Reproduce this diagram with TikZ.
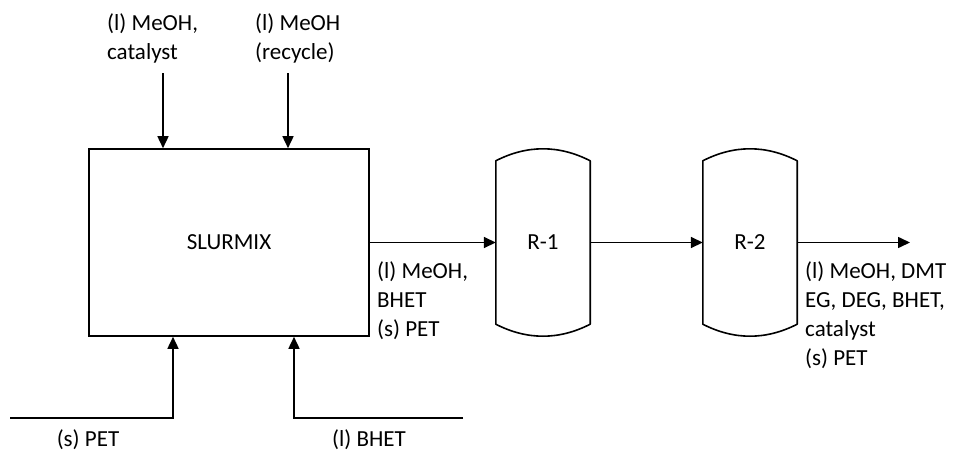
\documentclass[tikz,border=0pt]{standalone}
\usepackage{fontspec}
\setmainfont{Carlito}
\usetikzlibrary{arrows.meta,calc}
\begin{document}
\begin{tikzpicture}[x=1pt,y=-1pt,
  every node/.style={font=\fontsize{23}{29}\selectfont},
  flow/.style={line width=1.6pt, -{Triangle[width=11pt,length=12pt]}},
  unit/.style={draw, line width=1.6pt, minimum width=280pt, minimum height=187pt, inner sep=0pt},
  vessel/.style={minimum width=94pt, minimum height=187pt, inner sep=0pt},
  lbl/.style={anchor=base west, align=left, inner sep=0pt},
  clbl/.style={anchor=base, align=center, inner sep=0pt}]
\useasboundingbox (0,0) rectangle (975,455);
% units
\node[unit] (slur) at (229,242.5) {SLURMIX};
\node[vessel] (r1) at (543,242.5) {R-1};
\node[vessel] (r2) at (750,242.5) {R-2};
\foreach \r in {r1,r2}{
  \draw[line width=1.6pt, line join=round]
    ($(\r.north west)+(0,12)$)
      .. controls ($(\r.north west)+(31.3,-4)$) and ($(\r.north east)+(-31.3,-4)$) ..
    ($(\r.north east)+(0,12)$)
    -- ($(\r.south east)+(0,-12)$)
      .. controls ($(\r.south east)+(-31.3,4)$) and ($(\r.south west)+(31.3,4)$) ..
    ($(\r.south west)+(0,-12)$) -- cycle;
}
% feed points
\coordinate (fa) at (163,73);
\coordinate (fb) at (288,73);
\coordinate (pa) at (10,418);
\coordinate (pb) at (173,418);
\coordinate (ba) at (463,418);
\coordinate (bb) at (294,418);
\coordinate (out) at (910,242.5);
% connectors
\draw[flow] (fa) -- (fa |- slur.north);
\draw[flow] (fb) -- (fb |- slur.north);
\draw[flow] (pa) -- (pb) -- (pb |- slur.south);
\draw[flow] (ba) -- (bb) -- (bb |- slur.south);
\draw[flow] (slur.east) -- (r1.west);
\draw[flow] (r1.east) -- (r2.west);
\draw[flow] (r2.east) -- (out);
% labels (base = last line)
\node[lbl] (t1) at (107,59) {(l) MeOH,\\catalyst};
\node[lbl] (t2) at (255,59) {(l) MeOH\\(recycle)};
\node[lbl] (t3) at (377,336) {(l) MeOH,\\BHET\\(s) PET};
\node[lbl] (t4) at (805,365) {(l) MeOH, DMT\\EG, DEG, BHET,\\catalyst\\(s) PET};
\node[clbl] (t5) at (88,446) {(s) PET};
\node[clbl] (t6) at (369,446) {(l) BHET};
\end{tikzpicture}
\end{document}
